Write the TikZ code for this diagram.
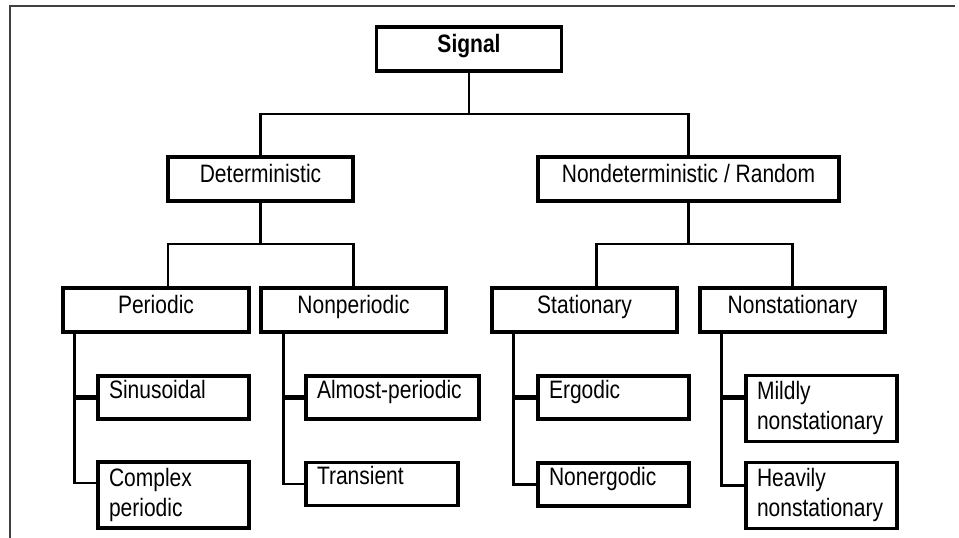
\documentclass[tikz,border=0pt]{standalone}
\usepackage{fontspec}
\setmainfont{Liberation Sans}
\newcommand{\tallword}[1]{\scalebox{1}[1.2]{#1}}
\newcommand{\tallpair}[2]{\scalebox{1}[1.2]{\begin{tabular}{@{}l@{}}#1\\#2\end{tabular}}}

\begin{document}
\begin{tikzpicture}
    [
        x=1pt, y=-1pt,
        box/.style={rectangle, draw=black, line width=3.2pt, inner sep=0pt, minimum width=185pt, text height=25pt, text depth=19pt, text centered, font=\fontsize{21}{25}\selectfont},
        leaf/.style={rectangle, draw=black, line width=3.2pt, inner xsep=11pt, inner ysep=0pt, align=left, text width=129pt, font=\fontsize{21}{25}\selectfont},
        oneline/.style={text height=22pt, text depth=21pt},
        twoline/.style={minimum height=66pt},
        conn/.style={line width=2.8pt},
        stub/.style={line width=4.8pt}
    ]
    \useasboundingbox (0,0) rectangle (959,538);
    % Frame
    \draw[line width=1.5pt, black!75] (955,6) -- (10,6) -- (10,538);

    % Nodes
    \node[box, font=\fontsize{21}{25}\selectfont\bfseries] (signal) at (469,49) {\tallword{Signal}};
    \node[box] (det) at (260.5,179) {\tallword{Deterministic}};
    \node[box, minimum width=301pt] (random) at (688.5,179) {\tallword{Nondeterministic / Random}};
    \node[box, minimum width=186pt] (periodic) at (156,310) {\tallword{Periodic}};
    \node[box] (nonperiodic) at (353.5,310) {\tallword{Nonperiodic}};
    \node[box] (stationary) at (584.5,310) {\tallword{Stationary}};
    \node[box] (nonstationary) at (792.5,310) {\tallword{Nonstationary}};

    \node[leaf, oneline] (sinusoidal) at (173.5,397.5) {\tallword{Sinusoidal}};
    \node[leaf, twoline] (complex) at (173.5,495) {\tallpair{Complex}{periodic}};
    \node[leaf, oneline, text width=151pt] (almost) at (392.5,397.5) {\tallword{Almost-periodic}};
    \node[leaf, oneline, text width=130pt] (transient) at (382,484) {\tallword{Transient}};
    \node[leaf, oneline] (ergodic) at (613.5,397.5) {\tallword{Ergodic}};
    \node[leaf, oneline] (nonergodic) at (613.5,484.5) {\tallword{Nonergodic}};
    \node[leaf, twoline] (mildly) at (821.5,408.5) {\tallpair{Mildly}{nonstationary}};
    \node[leaf, twoline] (heavily) at (821.5,495.5) {\tallpair{Heavily}{nonstationary}};

    % Tree connectors
    \coordinate (split0) at (469,114);
    \coordinate (split1) at (260.5,244);
    \coordinate (split2) at (688.5,244);
    \draw[conn] (signal.south) -- (split0);
    \draw[conn] (det.north) |- (split0) -| (random.north);
    \draw[conn] (det.south) -- (split1);
    \draw[conn] ([xshift=12pt]periodic.north) |- (split1) -| (nonperiodic.north);
    \draw[conn] (random.south) -- (split2);
    \draw[conn] ([xshift=12pt]stationary.north) |- (split2) -| (nonstationary.north);

    % Branches
    \coordinate (t1) at ([xshift=-22pt]sinusoidal.west);
    \coordinate (t2) at ([xshift=-21pt]almost.west);
    \coordinate (t3) at ([xshift=-23pt]ergodic.west);
    \coordinate (t4) at ([xshift=-23pt, yshift=11pt]mildly.west);
    \draw[conn] (t1 |- periodic.south) |- ([yshift=12pt]complex.west);
    \draw[conn] (t2 |- nonperiodic.south) |- (transient.west);
    \draw[conn] (t3 |- stationary.south) |- (nonergodic.west);
    \draw[conn] (t4 |- nonstationary.south) |- ([yshift=10pt]heavily.west);
    \draw[stub] (t1) -- (sinusoidal.west);
    \draw[stub] (t2) -- (almost.west);
    \draw[stub] (t3) -- (ergodic.west);
    \draw[stub] (t4) -- (t4 -| mildly.west);
\end{tikzpicture}
\end{document}
